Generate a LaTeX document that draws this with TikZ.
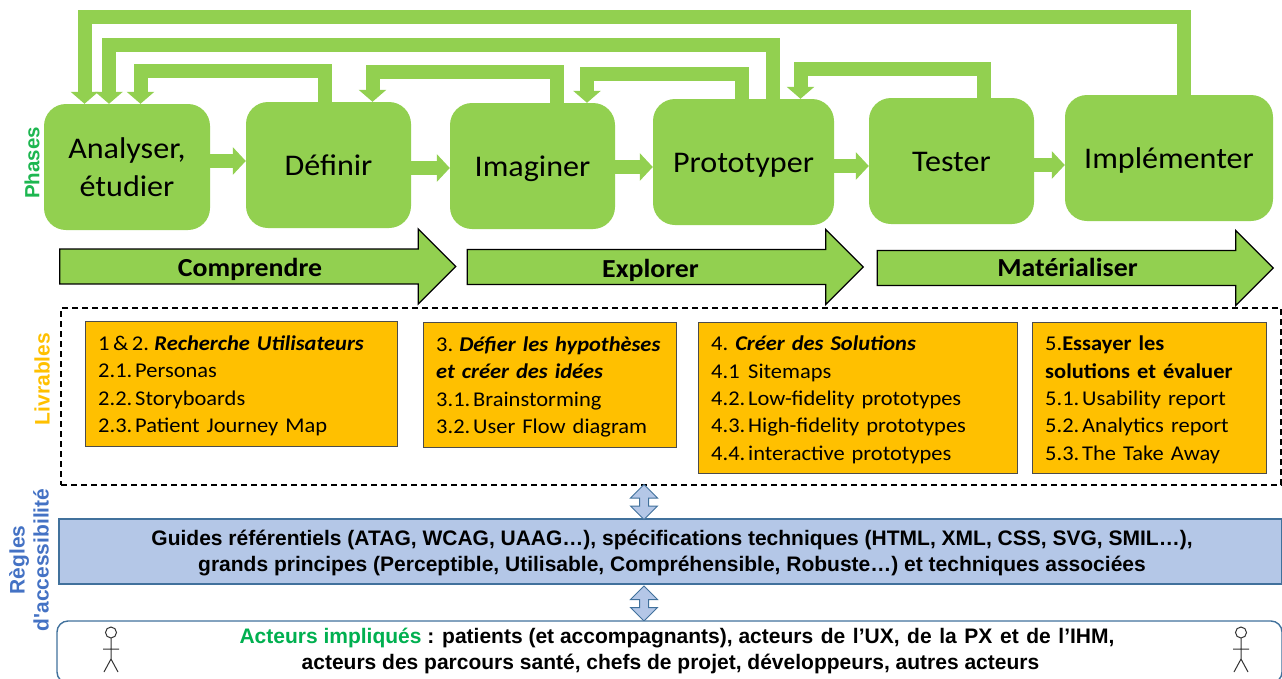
\documentclass[tikz,border=0pt]{standalone}
\usepackage{fontspec}
\setmainfont[FakeStretch=1.07]{Carlito}
\newfontfamily\arialfont{Liberation Sans}
\usepackage{xcolor}
\usetikzlibrary{arrows.meta, positioning, calc, shapes.arrows}
\definecolor{phasecolor}{RGB}{146,208,80}
\definecolor{livrecolor}{RGB}{255,192,0}
\definecolor{reglecolor}{RGB}{180,199,231}
\definecolor{borderblue}{RGB}{65,113,156}
\definecolor{titleblue}{RGB}{68,114,196}
\definecolor{titlegreen}{RGB}{0,176,80}
\newcommand{\numline}[2]{\makebox[37pt][l]{#1}#2}
\newcommand{\headit}[1]{{\bfseries\itshape #1}}

\begin{document}
\begin{tikzpicture}[
    x=1pt, y=-1pt,
    phase/.style={fill=phasecolor, rounded corners=22pt, inner sep=0pt, minimum height=126pt, font=\fontsize{30}{37.5}\selectfont, align=center},
    phaseone/.style={phase, text height=26pt, text depth=6pt},
    flow/.style={-{Triangle[length=13pt,width=27pt]}, line width=14pt, phasecolor},
    back/.style={-{Triangle[length=12pt,width=27pt]}, line width=14pt, phasecolor},
    stage/.style={single arrow, draw=black, line width=1.3pt, fill=phasecolor, minimum width=75pt, minimum height=396pt, single arrow head extend=14pt, single arrow tip angle=90, inner sep=0pt, text height=20pt, text depth=3pt, font=\fontsize{26}{30}\selectfont\bfseries},
    livre/.style={draw=black!70, fill=livrecolor, inner xsep=13pt, inner ysep=0pt, align=left, anchor=north west, font=\fontsize{21}{27.3}\selectfont, execute at begin node=\rule{0pt}{19pt}},
    side/.style={rotate=90, font=\arialfont\fontsize{21}{24}\selectfont\bfseries, align=center},
    exchange/.style={double arrow, draw=borderblue, line width=1pt, fill=reglecolor, rotate=90, minimum width=27pt, minimum height=35pt, double arrow head extend=1pt, double arrow tip angle=90, inner sep=0pt},
    band/.style={font=\arialfont\fontsize{21}{26}\selectfont\bfseries, align=center},
    actor/.pic={
        \draw[line width=1pt, black!80] (0,-5.5) circle (5.5)
            (0,0) -- (0,21) (-8,11) -- (8,11) (-7,34) -- (0,21) -- (7,34);
    }
]
    \useasboundingbox (0,0) rectangle (1282,678);

    % Phases
    \node[phase, minimum width=166pt] (analyser) at (127,167) {Analyser,\\étudier};
    \node[phaseone, minimum width=165pt] (definir) at (328.5,165) {Définir};
    \node[phaseone, minimum width=165pt] (imaginer) at (532.5,166) {Imaginer};
    \node[phaseone, minimum width=181pt] (prototyper) at (743.5,162) {Prototyper};
    \node[phaseone, minimum width=165pt] (tester) at (951.5,161) {Tester};
    \node[phaseone, minimum width=208pt] (implementer) at (1169,158) {Implémenter};

    % Forward arrows
    \draw[flow] (analyser.east |- 0,161) -- (definir.west |- 0,161);
    \draw[flow] (definir.east |- 0,168) -- (imaginer.west |- 0,168);
    \draw[flow] (imaginer.east |- 0,167) -- (prototyper.west |- 0,167);
    \draw[flow] (prototyper.east |- 0,166) -- (tester.west |- 0,166);
    \draw[flow] (tester.east |- 0,165) -- (implementer.west |- 0,165);

    % Feedback arrows
    \draw[back] (implementer.north -| 1184,0) -- (1184,17) -| (analyser.north -| 84.5,0);
    \draw[back] (prototyper.north -| 772.5,0) -- (772.5,44.5) -| (analyser.north -| 109,0);
    \draw[back] (definir.north -| 324.5,0) -- (324.5,70.5) -| (analyser.north -| 140.5,0);
    \draw[back] (imaginer.north -| 557,0) -- (557,71.5) -| (definir.north -| 372.5,0);
    \draw[back] (prototyper.north -| 742,0) -- (742,73.5) -| (imaginer.north -| 587,0);
    \draw[back] (tester.north -| 983.5,0) -- (983.5,68.5) -| (prototyper.north -| 800.5,0);

    % Stages
    \node[stage] (comprendre) at (249,266.5) {\hspace*{2pt}\raisebox{-1pt}{Comprendre}};
    \node[stage] (explorer) at (656.5,267) {\hspace*{-12pt}\raisebox{-2pt}{Explorer}};
    \node[stage] (materialiser) at (1066.5,268) {\hspace*{2pt}Matérialiser};

    % Side titles
    \node[side, text=titlegreen!80!phasecolor, font=\arialfont\fontsize{20.5}{24}\selectfont\bfseries] (phases) at (32,163) {Phases};
    \node[side, text=livrecolor] (livrables) at (42,379) {Livrables};
    \node[side, text=titleblue] (regles) at (29,560) {Règles\\d'accessibilité};

    % Deliverables
    \node[draw, dash pattern=on 6pt off 4pt, line width=1.2pt, minimum width=1220pt, minimum height=177pt, inner sep=0pt] (zone) at (671,396.5) {};
    \node[livre, text width=286pt, minimum height=125pt] (recherche) at (85,321) {1\hspace{3.5pt}\&\hspace{3.5pt}2.\hspace{5.5pt}\headit{Recherche Utilisateurs}\\\numline{2.1.}{Personas}\\\numline{2.2.}{Storyboards}\\\numline{2.3.}{Patient Journey Map}};
    \node[livre, text width=227pt, minimum height=125pt] (defier) at (423,322) {3.\hspace{6pt}\headit{Défier les hypothèses}\\\headit{et créer des idées}\\\numline{3.1.}{Brainstorming}\\\numline{3.2.}{User Flow diagram}};
    \node[livre, text width=293pt, minimum height=151pt] (creer) at (698,322) {4.\hspace{7pt}\headit{Créer des Solutions}\\\numline{4.1}{Sitemaps}\\\numline{4.2.}{Low-fidelity prototypes}\\\numline{4.3.}{High-fidelity prototypes}\\\numline{4.4.}{interactive prototypes}};
    \node[livre, text width=208pt, minimum height=151pt] (essayer) at (1032,322) {5.\textbf{Essayer les}\\\textbf{solutions et évaluer}\\\numline{5.1.}{Usability report}\\\numline{5.2.}{Analytics report}\\\numline{5.3.}{The Take Away}};

    % Rules
    \node[draw=borderblue, line width=1.4pt, fill=reglecolor, minimum width=1223pt, minimum height=65pt, inner sep=0pt] (regle) at (670.5,551.5) {};
    \node[band] (regletext) at (672,553) {Guides référentiels (ATAG, WCAG, UAAG…), spécifications techniques (HTML, XML, CSS, SVG, SMIL…),\\grands principes (Perceptible, Utilisable, Compréhensible, Robuste…) et techniques associées};
    \node[exchange] (zonelink) at (644,502) {};
    \node[exchange] (acteurlink) at (644,603.5) {};

    % Actors
    \node[draw=borderblue, line width=1.4pt, fill=white, rounded corners=11pt, minimum width=1225pt, minimum height=62pt, inner sep=0pt] (acteurs) at (669.5,652) {};
    \node[band] (acteurtext) at (677,651) {\textcolor{titlegreen}{Acteurs impliqués} : patients (et accompagnants), {\spaceskip=7.6pt acteurs de l’UX, de la PX et de l’IHM,}\\\hspace*{-13pt}acteurs des parcours santé, chefs de projet, développeurs, autres acteurs};
    \pic at (111,638) {actor};
    \pic at (1241,638) {actor};
\end{tikzpicture}
\end{document}
